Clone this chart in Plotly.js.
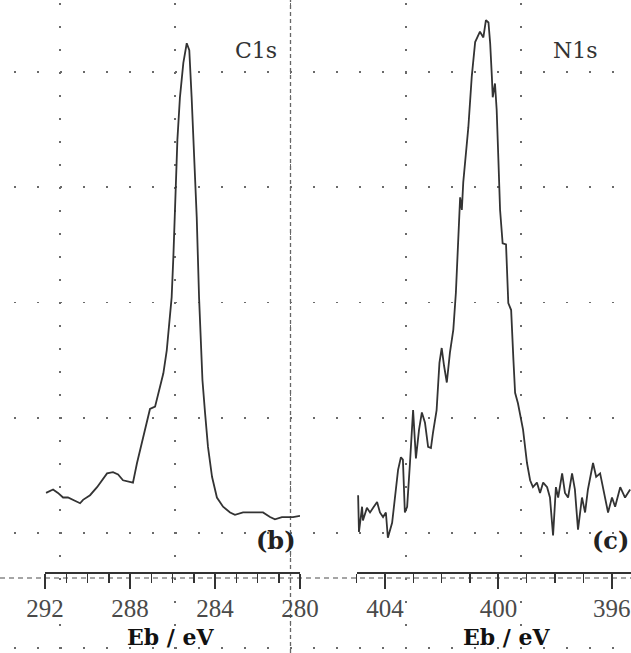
<!DOCTYPE html>
<html><head><meta charset="utf-8">
<script src="https://cdn.plot.ly/plotly-3.0.1.min.js"></script>
<style>html,body{margin:0;padding:0;background:#fff;overflow:hidden}</style>
</head><body><div id="chart" style="width:631px;height:653px"></div>
<script>
// C1s spectrum (binding energy in eV, intensity in a.u.)
const c1sEnergy = [291.95,291.62,291.39,291.15,290.92,290.68,290.35,290.21,289.88,289.55,289.32,289.08,288.80,288.56,288.33,288.09,287.86,287.67,287.39,287.06,286.82,286.59,286.43,286.27,286.15,286.04,285.96,285.85,285.77,285.65,285.49,285.33,285.21,285.10,284.97,284.86,284.75,284.66,284.59,284.47,284.33,284.14,283.91,283.62,283.29,283.06,282.68,282.21,281.74,281.41,281.18,280.85,280.61,280.33,280.00];
const c1sIntensity = [0.74,0.77,0.74,0.70,0.70,0.68,0.65,0.68,0.72,0.79,0.85,0.91,0.92,0.90,0.85,0.84,0.83,1.00,1.22,1.47,1.49,1.66,1.78,1.98,2.22,2.44,2.79,3.40,3.81,4.18,4.48,4.65,4.59,4.18,3.61,3.14,2.44,2.01,1.72,1.44,1.14,0.88,0.70,0.62,0.57,0.55,0.57,0.57,0.57,0.53,0.51,0.53,0.53,0.53,0.54];
// N1s spectrum
const n1sEnergy = [404.95,404.92,404.81,404.78,404.64,404.53,404.42,404.28,404.18,404.07,403.97,403.90,403.75,403.65,403.54,403.44,403.37,403.30,403.22,403.12,403.01,402.91,402.80,402.70,402.59,402.48,402.38,402.31,402.18,402.08,402.00,401.92,401.82,401.71,401.59,401.50,401.41,401.35,401.29,401.24,401.06,400.94,400.82,400.65,400.53,400.44,400.35,400.29,400.23,400.20,400.12,400.06,400.00,399.94,399.85,399.73,399.65,399.55,399.47,399.41,399.31,399.13,398.99,398.88,398.78,398.64,398.53,398.42,398.28,398.18,398.07,397.97,397.89,397.75,397.65,397.54,397.40,397.30,397.19,397.05,396.94,396.84,396.66,396.55,396.41,396.31,396.13,395.99,395.88,395.70,395.53,395.35];
const n1sIntensity = [0.72,0.40,0.62,0.50,0.61,0.57,0.61,0.66,0.57,0.53,0.57,0.35,0.48,0.70,0.94,1.05,1.03,0.57,0.62,1.00,1.46,1.04,1.29,1.44,1.35,1.14,1.13,1.26,1.46,1.87,2.00,1.85,1.70,1.96,2.16,2.48,2.91,3.31,3.20,3.44,3.92,4.36,4.66,4.75,4.70,4.85,4.83,4.65,4.36,4.18,4.30,4.07,3.64,3.20,2.91,2.90,2.39,2.33,1.90,1.61,1.52,1.29,1.00,0.85,0.79,0.83,0.74,0.83,0.79,0.70,0.37,0.79,0.70,0.91,0.74,0.70,0.91,0.77,0.42,0.70,0.57,0.77,1.00,0.88,0.91,0.79,0.57,0.70,0.62,0.79,0.70,0.77];
const c1sTicks = [292, 288, 284, 280];
const n1sTicks = [404, 400, 396];
const panelLabels = ['C1s', 'N1s'];
const panelTags = ['(b)', '(c)'];
const axisTitle = 'Eb / eV';

const W = 631, H = 653;
const lineColor = '#333';
const tickFont = {family: 'Liberation Serif, serif', size: 25, color: '#4a4a4a'};

function dataAxis(domain, range, ticks) {
  return {
    domain: domain, range: range, anchor: 'free', position: (H - 573) / H,
    showline: true, linecolor: '#333', linewidth: 2,
    ticks: 'outside', ticklen: 15, tickwidth: 2, tickcolor: '#333',
    tickmode: 'array', tickvals: ticks, ticktext: ticks.map(String),
    tickfont: tickFont, ticklabelstandoff: -2,
    minor: {ticks: 'outside', ticklen: 9, tickwidth: 1.5, tickcolor: '#333', dtick: 1, tick0: ticks[0], showgrid: false},
    showgrid: false, zeroline: false, fixedrange: true
  };
}

const traces = [
  {x: c1sEnergy, y: c1sIntensity, xaxis: 'x2', yaxis: 'y2', mode: 'lines', line: {color: lineColor, width: 1.8}, hoverinfo: 'skip', showlegend: false},
  {x: n1sEnergy, y: n1sIntensity, xaxis: 'x3', yaxis: 'y2', mode: 'lines', line: {color: lineColor, width: 1.8}, hoverinfo: 'skip', showlegend: false}
];

const gridStyle = {showgrid: true, gridcolor: '#6a6a6a', gridwidth: 1.6, griddash: '2px,21px',
  showticklabels: false, ticks: '', zeroline: false, showline: false, fixedrange: true};

const layout = {
  width: W, height: H, margin: {l: 0, r: 0, t: 0, b: 0},
  paper_bgcolor: '#fff', plot_bgcolor: 'rgba(0,0,0,0)',
  xaxis: Object.assign({domain: [14 / W, 1], range: [14, W], tick0: 60, dtick: 115.25, anchor: 'y'}, gridStyle),
  yaxis: Object.assign({domain: [0, (H - 3) / H], range: [H, 3], tick0: 72, dtick: 115.25, anchor: 'x'}, gridStyle),
  xaxis2: dataAxis([45 / W, 300 / W], [292, 280], c1sTicks),
  xaxis3: dataAxis([356.7 / W, 1], [405, 395.32], n1sTicks),
  yaxis2: {domain: [0, 1], range: [-0.652, 5.026], visible: false, anchor: 'x2', fixedrange: true},
  shapes: [
    {type: 'line', xref: 'x', yref: 'paper', x0: 290.5, x1: 290.5, y0: 0, y1: 1, layer: 'below',
     line: {color: '#666', width: 1.3, dash: '4px,3px'}},
    {type: 'line', xref: 'paper', yref: 'y', x0: 0, x1: 1, y0: 578, y1: 578, layer: 'below',
     line: {color: '#888', width: 1.3, dash: '5px,4px'}}
  ],
  annotations: [
    {xref: 'x', yref: 'y', x: 256, y: 50, text: panelLabels[0], showarrow: false, font: {family: 'DejaVu Serif, serif', size: 22, color: '#333'}},
    {xref: 'x', yref: 'y', x: 575, y: 50, text: panelLabels[1], showarrow: false, font: {family: 'DejaVu Serif, serif', size: 22, color: '#333'}},
    {xref: 'x', yref: 'y', x: 276, y: 540, text: '<b>' + panelTags[0] + '</b>', showarrow: false, font: {family: 'DejaVu Serif, serif', size: 24, color: '#222'}},
    {xref: 'x', yref: 'y', x: 610, y: 540, text: '<b>' + panelTags[1] + '</b>', showarrow: false, font: {family: 'DejaVu Serif, serif', size: 24, color: '#222'}},
    {xref: 'x', yref: 'y', x: 171, y: 637, text: '<b>' + axisTitle + '</b>', showarrow: false, font: {family: 'DejaVu Serif, serif', size: 22, color: '#111'}},
    {xref: 'x', yref: 'y', x: 507, y: 637, text: '<b>' + axisTitle + '</b>', showarrow: false, font: {family: 'DejaVu Serif, serif', size: 22, color: '#111'}}
  ]
};

Plotly.newPlot('chart', traces, layout, {staticPlot: true, displayModeBar: false});
</script>
</body></html>
